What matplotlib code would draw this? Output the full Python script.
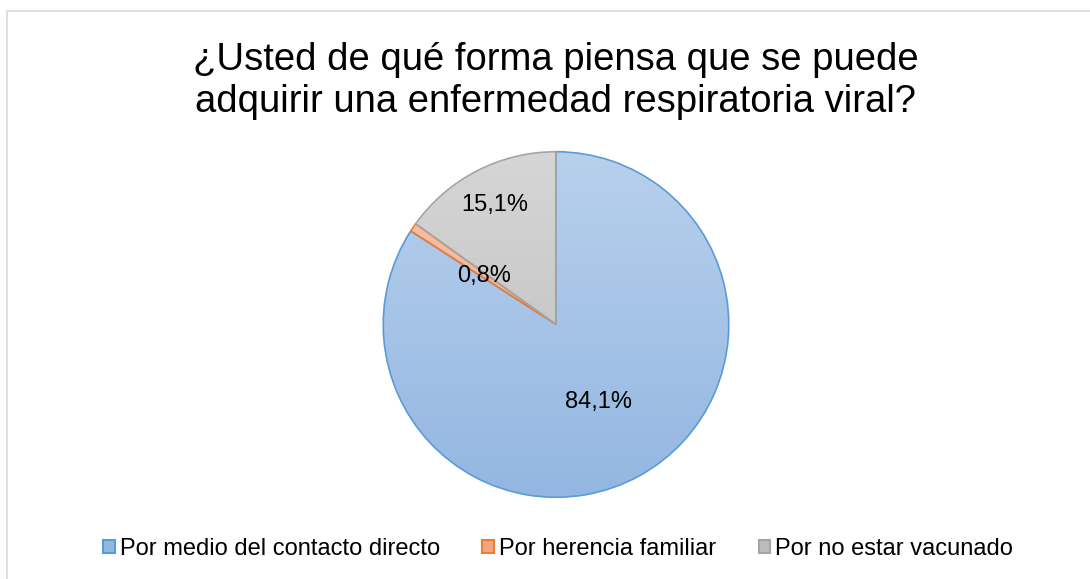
import numpy as np
import matplotlib.pyplot as plt
from matplotlib.patches import Patch, Rectangle

plt.rcParams['font.family'] = ['Liberation Sans', 'DejaVu Sans']

title = '¿Usted de qué forma piensa que se puede\nadquirir una enfermedad respiratoria viral?'
categories = ['Por medio del contacto directo', 'Por herencia familiar', 'Por no estar vacunado']
values = [84.1, 0.8, 15.1]
labels = ['84,1%', '0,8%', '15,1%']

# gradient colours (top, bottom) and edge colours
tops = ['#b8d0ec', '#f7c4ab', '#d6d6d6']
bottoms = ['#93b7e2', '#f3a684', '#bcbcbc']
edges = ['#5b9bd5', '#ed7d31', '#a5a5a5']
label_r = [0.51, 0.50, 0.78]

fig = plt.figure(figsize=(10.9, 5.79), dpi=100)

# chart border
fig.patches.append(Rectangle((7 / 1090, -0.1), 1.2, 1 - 11 / 579 + 0.1,
                             transform=fig.transFigure, fill=False,
                             edgecolor='#d9d9d9', linewidth=1.2))

fig.text(0.5095, 1 - 81 / 579, title, ha='center', va='center',
         fontsize=27.5, linespacing=1.19, color='#000000')

ax = fig.add_axes([(556 - 174.5) / 1090, (579 - 499) / 579, 349 / 1090, 349 / 579])
wedges, _ = ax.pie(values, startangle=90, counterclock=False, colors=bottoms,
                   wedgeprops=dict(linewidth=1.2))
ax.set_xlim(-1.01, 1.01)
ax.set_ylim(-1.01, 1.01)
ax.set_aspect('equal')
ax.axis('off')

for w, t, b, e, lab, r in zip(wedges, tops, bottoms, edges, labels, label_r):
    grad = np.linspace(0, 1, 256)[:, None]
    ct = np.array(plt.matplotlib.colors.to_rgb(t))
    cb = np.array(plt.matplotlib.colors.to_rgb(b))
    img = ct[None, None, :] * (1 - grad[:, :, None]) + cb[None, None, :] * grad[:, :, None]
    im = ax.imshow(img, extent=[-1, 1, -1, 1], origin='upper', zorder=1, aspect='auto')
    im.set_clip_path(w)
    w.set_facecolor('none')
    w.set_edgecolor(e)
    w.set_zorder(2)
    mid = np.deg2rad((w.theta1 + w.theta2) / 2)
    ax.text(r * np.cos(mid), r * np.sin(mid), lab, ha='center', va='center',
            fontsize=17, color='#000000', zorder=3)

handles = [Patch(facecolor=b, edgecolor=e, linewidth=1.5) for b, e in zip(bottoms, edges)]
fig.legend(handles, categories, loc='center', bbox_to_anchor=(0.512, 1 - 549 / 579),
           ncol=3, frameon=False, fontsize=17, handlelength=0.5, handleheight=0.5,
           handletextpad=0.2, columnspacing=1.8)

fig.savefig('out.png', dpi=100)
